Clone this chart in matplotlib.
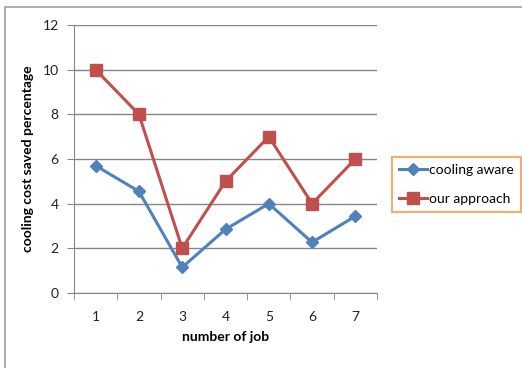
import matplotlib.pyplot as plt
import numpy as np
from matplotlib.patches import Rectangle

plt.rcParams['font.family'] = ['Lato', 'DejaVu Sans']

jobs = ['1', '2', '3', '4', '5', '6', '7']
cooling_aware = [5.7, 4.55, 1.15, 2.85, 4.0, 2.27, 3.44]
our_approach = [10, 8, 2, 5, 7, 4, 6]

fig = plt.figure(figsize=(5.22, 3.68), dpi=100)
W, H = 522, 368
ax = fig.add_axes([74 / W, 1 - 293 / H, (377 - 74) / W, (293 - 25) / H])

# outer chart frame (runs off the right and bottom edges)
fig.patches.append(Rectangle((5 / W, -0.05), 1.2, 1 - 7 / H + 0.05, transform=fig.transFigure,
                             fill=False, edgecolor='#a0a0a0', linewidth=1.2))

x = np.arange(len(jobs))
blue = '#4f81bd'
red = '#c0504d'
ax.plot(x, cooling_aware, color=blue, linewidth=2.2, marker='D', markersize=6,
        label='cooling aware', zorder=3)
ax.plot(x, our_approach, color=red, linewidth=2.2, marker='s', markersize=8,
        label='our approach', zorder=3)

ax.set_xlim(-0.5, len(jobs) - 0.5)
ax.set_ylim(0, 12)
ax.set_yticks(range(0, 13, 2))
ax.set_xticks(x)
ax.set_xticklabels(jobs)
ax.set_xticks(np.arange(-0.5, len(jobs), 1), minor=True)
ax.tick_params(axis='x', which='major', length=0, pad=13, labelsize=10, colors='#222222')
ax.tick_params(axis='x', which='minor', length=5, color='#868686')
ax.tick_params(axis='y', length=5, color='#868686', labelsize=10, colors='#222222', pad=6)

ax.grid(axis='y', color='#868686', linewidth=1)
ax.set_axisbelow(True)
for s in ['top', 'right']:
    ax.spines[s].set_visible(False)
for s in ['left', 'bottom']:
    ax.spines[s].set_color('#868686')

ax.set_xlabel('number of job', fontsize=10, fontweight='bold', labelpad=6)
ax.set_ylabel('cooling cost saved percentage', fontsize=10, fontweight='bold', labelpad=6)

leg = fig.legend(loc='upper left', bbox_to_anchor=(392 / W, 1 - 157 / H), fontsize=10,
                 frameon=True, fancybox=False, handlelength=2.0, borderpad=0.5,
                 labelspacing=1.25, handletextpad=0.15, borderaxespad=0)
leg.get_frame().set_edgecolor('#f79646')
leg.get_frame().set_linewidth(1.5)

fig.savefig('out.png', dpi=100)
